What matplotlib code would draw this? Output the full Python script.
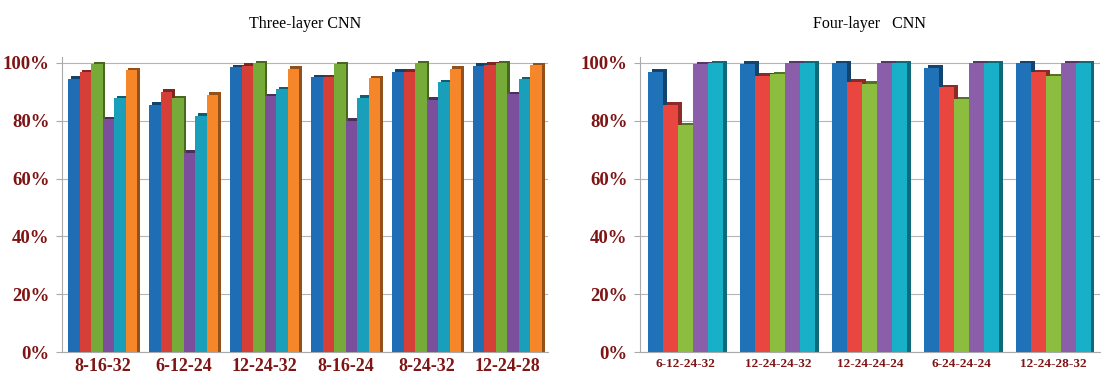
import matplotlib
matplotlib.use("Agg")
import matplotlib.pyplot as plt
import matplotlib.colors as mcolors
import numpy as np

# ---- data ----
left_categories = ["8-16-32", "6-12-24", "12-24-32", "8-16-24", "8-24-32", "12-24-28"]
left_s1 = [94.5, 85.5, 98.5, 95.0, 97.0, 99.0]
left_s2 = [96.9, 90.0, 99.0, 95.0, 97.0, 99.4]
left_s3 = [99.6, 87.8, 100.0, 99.5, 99.8, 100.0]
left_s4 = [80.5, 69.0, 88.5, 80.0, 87.3, 89.2]
left_s5 = [87.8, 81.8, 91.0, 88.0, 93.4, 94.4]
left_s6 = [97.5, 89.0, 98.0, 94.8, 98.0, 99.2]

right_categories = ["6-12-24-32", "12-24-24-32", "12-24-24-24", "6-24-24-24", "12-24-28-32"]
right_s1 = [97.0, 99.7, 99.8, 98.3, 100.0]
right_s2 = [85.6, 95.6, 93.5, 91.6, 96.7]
right_s3 = [78.5, 96.2, 92.8, 87.4, 95.5]
right_s4 = [99.6, 99.8, 100.0, 100.0, 100.0]
right_s5 = [100.0, 100.0, 100.0, 100.0, 100.0]

yticks = [0, 20, 40, 60, 80, 100]
ytick_labels = ["0%", "20%", "40%", "60%", "80%", "100%"]

left_colors = ["#1F6EB5", "#D63F37", "#76AB3A", "#7B4F9C", "#1A9FBB", "#F5862A"]
right_colors = ["#1F72B8", "#E8463F", "#8CBD3E", "#8A5EA8", "#18AFC8"]

label_color = "#7E1414"
serif = ["Liberation Serif", "DejaVu Serif"]

fig = plt.figure(figsize=(11.12, 3.84), dpi=100)
ax1 = fig.add_axes([0.0558, 0.0833, 0.437, 0.768])
ax2 = fig.add_axes([0.5755, 0.0833, 0.4135, 0.768])


def darker(c, f=0.6):
    r, g, b = mcolors.to_rgb(c)
    return (r * f, g * f, b * f)


def draw(ax, cats, series, colors, bw, dx, dy, xfs, title):
    n = len(series)
    x = np.arange(len(cats))
    offsets = (np.arange(n) - (n - 1) / 2) * bw
    # 3D side/top faces (shadow bars behind)
    for i, vals in enumerate(series):
        ax.bar(x + offsets[i] + dx, np.array(vals) + dy, width=bw,
               color=darker(colors[i]), zorder=2, linewidth=0)
    for i, vals in enumerate(series):
        ax.bar(x + offsets[i], vals, width=bw, color=colors[i], zorder=3,
               linewidth=0)
    ax.set_xlim(-0.5, len(cats) - 0.5)
    ax.set_ylim(0, 102)
    ax.set_yticks(yticks)
    ax.set_yticklabels(ytick_labels, fontfamily=serif, fontweight="bold",
                       fontsize=13.5, color=label_color)
    ax.set_xticks(x)
    ax.set_xticklabels(cats, fontfamily=serif, fontweight="bold",
                       fontsize=xfs, color=label_color)
    ax.tick_params(axis="x", length=0, pad=4)
    ax.tick_params(axis="y", length=4, color="#AAAAAA", pad=5)
    ax.grid(axis="y", color="#B5B5B5", linewidth=0.8, zorder=0)
    ax.set_axisbelow(True)
    for s in ["top", "right"]:
        ax.spines[s].set_visible(False)
    ax.spines["left"].set_color("#AAAAAA")
    ax.spines["bottom"].set_color("#AAAAAA")
    ax.set_title(title, fontfamily=serif, fontsize=11.5, pad=21)


draw(ax1, left_categories,
     [left_s1, left_s2, left_s3, left_s4, left_s5, left_s6],
     left_colors, 0.142, 0.035, 0.8, 13, "Three-layer CNN")
draw(ax2, right_categories,
     [right_s1, right_s2, right_s3, right_s4, right_s5],
     right_colors, 0.163, 0.035, 0.8, 9.5, "Four-layer   CNN")

fig.savefig("out.png", dpi=100)
